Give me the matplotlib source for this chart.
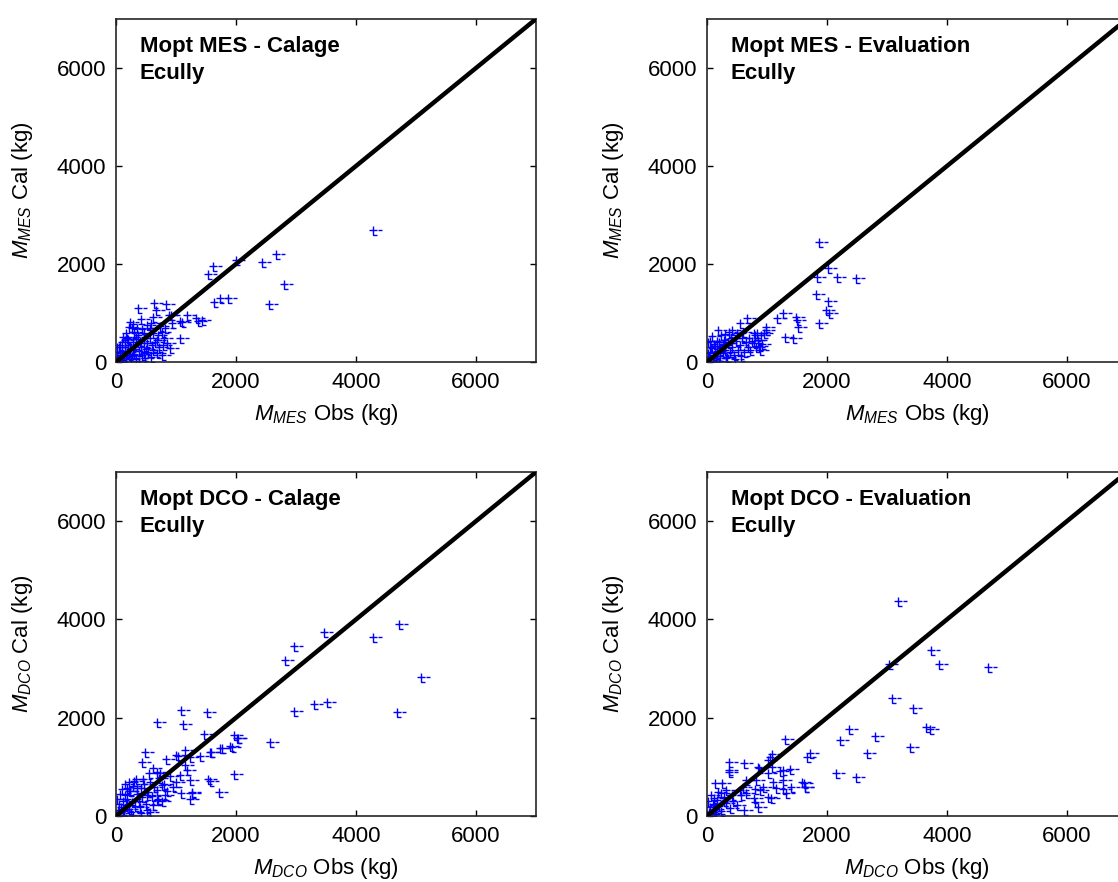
import matplotlib
matplotlib.use("Agg")
import matplotlib.pyplot as plt
from matplotlib.path import Path

plt.rcParams["font.family"] = "Liberation Sans"
plt.rcParams["mathtext.fontset"] = "custom"
plt.rcParams["mathtext.rm"] = "Liberation Sans"
plt.rcParams["mathtext.it"] = "Liberation Sans:italic"
plt.rcParams["xtick.labelsize"] = 16
plt.rcParams["ytick.labelsize"] = 16

# --- MES calage (observed, calculated) ---
mes_cal_obs = [4280, 2670, 2440, 2000, 2800, 2550, 1610, 1540, 1640, 1740, 1860,
               370, 640, 660, 840, 1180, 1340, 1430, 1060, 910, 1070, 900, 760,
               880, 1100, 1360, 260, 430, 590, 730, 930, 120, 200, 340, 460, 570, 680, 790, 620, 460, 290, 10, 70,
               20, 40, 60, 80, 100, 120, 150, 160, 180, 200, 220, 240, 250, 280, 300, 320, 340, 360, 380, 400,
               420, 440, 470, 500, 520, 540, 560, 600, 620, 650, 700, 720, 760, 800, 820, 850, 160, 220, 300,
               100, 50, 30, 10, 140, 260, 330, 390, 480, 580, 680, 0, 15, 70, 190, 240, 420, 520, 610, 280, 350, 150]
mes_cal_sim = [2690, 2200, 2040, 2080, 1590, 1180, 1950, 1800, 1230, 1300, 1310,
               1100, 1210, 1060, 1180, 960, 890, 860, 830, 950, 480, 280, 140,
               960, 820, 830, 690, 670, 790, 735, 790, 520, 470, 520, 380, 480, 450, 350, 245, 180, 245, 310, 180,
               40, 90, 150, 60, 220, 130, 300, 80, 200, 350, 140, 260, 60, 400, 170, 320, 90, 560, 230, 420,
               300, 150, 600, 260, 380, 200, 700, 340, 600, 400, 560, 300, 620, 480, 700, 380, 600, 720, 620,
               400, 300, 20, 80, 20, 120, 460, 30, 90, 110, 180, 0, 200, 350, 500, 820, 880, 760, 920, 780, 700, 450]

# --- MES evaluation ---
mes_eval_obs = [1860, 2020, 2160, 2490, 1840, 1820, 2020, 1990, 2030, 1860, 1270, 1160, 1490, 1520, 1300, 1440,
                990, 910, 660, 550, 190, 50, 830, 975, 950, 800, 900, 780, 860, 300, 90, 120, 20, 1500,
                10, 30, 50, 70, 90, 110, 130, 150, 170, 200, 220, 240, 260, 280, 300, 320, 350, 380, 400, 420,
                450, 480, 500, 520, 550, 580, 600, 620, 650, 680, 700, 720, 750, 780, 820, 850, 880, 160, 240,
                360, 420, 0, 20, 60, 100, 200, 340, 460, 560, 270]
mes_eval_sim = [2440, 1910, 1740, 1710, 1740, 1380, 1240, 1060, 1000, 800, 990, 890, 925, 720, 520, 480,
                720, 360, 890, 790, 650, 420, 590, 660, 600, 550, 550, 380, 320, 580, 530, 370, 400, 850,
                20, 100, 200, 60, 280, 150, 330, 90, 230, 400, 120, 300, 180, 450, 250, 80, 380, 200, 500, 300,
                150, 420, 600, 250, 350, 480, 620, 200, 400, 300, 500, 250, 420, 600, 300, 450, 250, 420, 560,
                620, 650, 0, 180, 300, 30, 30, 100, 60, 130, 340]

# --- DCO calage ---
dco_cal_obs = [4720, 4290, 3460, 2960, 2820, 5090, 4690, 3520, 3300, 2960, 2570, 1960, 2040, 1960, 1710,
               1540, 1560, 1230, 1260, 1080, 1120, 1510, 680, 1460, 1590, 1760, 1900, 1150, 480, 430, 840,
               1000, 680, 330, 1040, 1230, 1400, 1570, 1730, 1930, 2010, 1260, 1090, 1070, 730, 1180, 1150,
               550, 620, 450, 210, 520, 770, 1000, 1230, 350, 220, 680,
               10, 30, 50, 70, 90, 110, 130, 150, 170, 190, 210, 240, 260, 290, 320, 350, 380, 410, 440,
               470, 500, 530, 560, 600, 640, 680, 720, 760, 800, 850, 900, 950, 60, 120, 180, 250, 300,
               400, 520, 620, 700, 820, 0, 20, 100, 150, 280, 420, 560]
dco_cal_sim = [3900, 3650, 3740, 3450, 3170, 2830, 2110, 2310, 2270, 2140, 1500, 1650, 1590, 850, 490,
               750, 720, 340, 490, 2160, 1870, 2110, 1910, 1670, 1310, 1380, 1420, 1340, 1300, 1090, 1170,
               1250, 900, 760, 1220, 1200, 1220, 1310, 1380, 1410, 1580, 460, 460, 830, 870, 935, 1030,
               870, 970, 750, 690, 430, 630, 700, 740, 570, 500, 330,
               30, 120, 250, 60, 180, 300, 100, 420, 220, 350, 150, 500, 280, 620, 200, 450, 300, 560, 380,
               650, 250, 480, 700, 400, 600, 520, 780, 300, 650, 500, 820, 600, 450, 20, 560, 80, 720,
               180, 120, 220, 350, 420, 0, 350, 550, 650, 30, 60, 90]

# --- DCO evaluation ---
dco_eval_obs = [3180, 3740, 3860, 4680, 3040, 3080, 3440, 3650, 3720, 3380, 2800, 2660, 2360, 2210, 2480,
                2150, 1720, 1670, 1620, 1640, 1300, 1380, 1220, 1080, 1020, 870, 610, 360, 360, 1100, 1270,
                800, 800, 1020, 140, 372, 856, 1050, 1083, 1017, 1272, 1578, 1633, 1272, 1150, 1394, 1311,
                1072, 878, 930, 822, 655, 600, 650, 790, 850, 256, 311, 228, 422, 556, 611, 111, 111, 278,
                10, 30, 50, 80, 100, 130, 160, 200, 240, 280, 320, 380, 440, 500, 560, 20, 60, 150, 0, 180]
dco_eval_sim = [4380, 3380, 3090, 3040, 3090, 2400, 2190, 1820, 1780, 1410, 1630, 1290, 1780, 1550, 800,
                880, 1290, 1210, 670, 580, 1570, 960, 920, 1260, 1140, 970, 1070, 1090, 890, 700, 540,
                540, 280, 380, 680, 940, 1004, 1207, 1000, 870, 936, 698, 600, 733, 560, 600, 465,
                360, 530, 600, 733, 733, 600, 460, 360, 190, 665, 530, 460, 430, 530, 125, 360, 230, 300,
                20, 90, 180, 60, 250, 140, 320, 200, 110, 380, 260, 170, 300, 230, 420, 300, 420, 40, 0, 480]

panels = [
    ("Mopt MES - Calage\nEcully", mes_cal_obs, mes_cal_sim, "MES"),
    ("Mopt MES - Evaluation\nEcully", mes_eval_obs, mes_eval_sim, "MES"),
    ("Mopt DCO - Calage\nEcully", dco_cal_obs, dco_cal_sim, "DCO"),
    ("Mopt DCO - Evaluation\nEcully", dco_eval_obs, dco_eval_sim, "DCO"),
]
ticks = [0, 2000, 4000, 6000]
lim = 7000

# plus sign with the little offset dashes of the original export
_mk = Path([(-1, 0), (1, 0), (0, 1), (0, -1.3), (0, -1.3), (0.9, -1.3), (1.2, -0.1), (2.2, -0.1)],
           [Path.MOVETO, Path.LINETO, Path.MOVETO, Path.LINETO,
            Path.MOVETO, Path.LINETO, Path.MOVETO, Path.LINETO])

W, H = 1118, 882
fig = plt.figure(figsize=(W / 100, H / 100), dpi=100)
boxes = [(116, 19, 362), (707, 19, 362), (116, 472, 816), (707, 472, 816)]

for (title, obs, sim, sub), (x0, ytop, ybot) in zip(panels, boxes):
    ax = fig.add_axes([x0 / W, 1 - ybot / H, 420 / W, (ybot - ytop) / H])
    ax.plot(obs, sim, linestyle="none", marker=_mk, markersize=12.5, markeredgewidth=1.0,
            color="#0000ff", zorder=2)
    ax.plot([0, lim], [0, lim], color="black", lw=3.2, zorder=3, solid_capstyle="butt")
    ax.set_xlim(0, lim)
    ax.set_ylim(0, lim)
    ax.set_xticks(ticks)
    ax.set_yticks(ticks)
    ax.tick_params(direction="in", length=4, width=1, top=True, right=True, pad=7)
    for s in ax.spines.values():
        s.set_linewidth(1.2)
        s.set_color("#262626")
    ax.set_xlabel(r"$M_{%s}$ Obs (kg)" % sub, fontsize=16, labelpad=7)
    ax.set_ylabel(r"$M_{%s}$ Cal (kg)" % sub, fontsize=16, labelpad=16)
    ax.text(0.057, 0.95, title, transform=ax.transAxes, va="top", ha="left",
            fontsize=16, fontweight="bold", linespacing=1.35)

fig.savefig("out.png", dpi=100)
